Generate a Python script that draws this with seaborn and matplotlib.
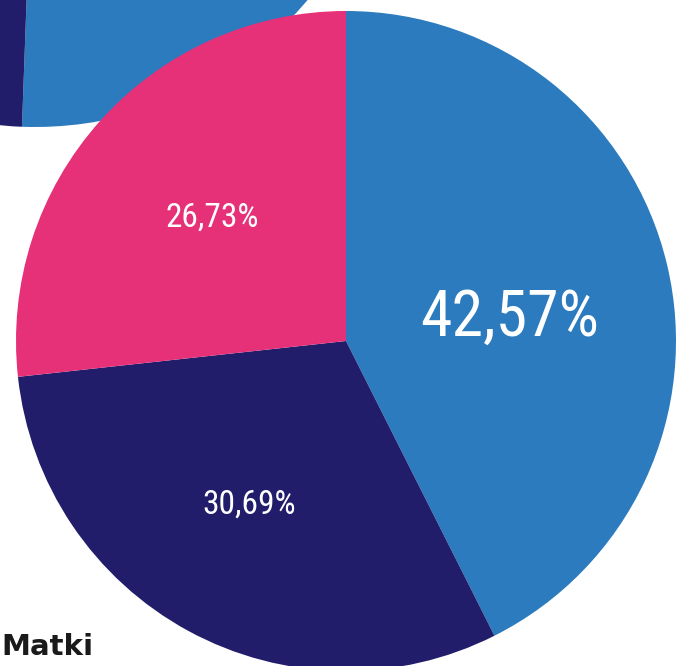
import matplotlib
matplotlib.use("Agg")
import matplotlib.pyplot as plt
import seaborn as sns

sns.set_theme(style="white")

# main pie (Matki)
labels = ["42,57%", "30,69%", "26,73%"]
values = [42.57, 30.69, 26.73]
colors = ["#2B7BBE", "#221D6B", "#E63077"]

# neighbouring pie, only partly visible top-left
side_values = [45.0, 55.0]
side_colors = ["#2B7BBE", "#221D6B"]

title = "Matki"

W, H = 683, 666
fig = plt.figure(figsize=(W / 100, H / 100), dpi=100)
ax = fig.add_axes([0, 0, 1, 1])

# partial pie behind
ax.pie(side_values, colors=side_colors, startangle=-92.1, counterclock=True,
       center=(35, H + 229), radius=356, wedgeprops=dict(linewidth=0))

wedges, _ = ax.pie(values, colors=colors, startangle=90, counterclock=False,
                   center=(346, H - 341), radius=330,
                   wedgeprops=dict(linewidth=0))

ax.set_xlim(0, W)
ax.set_ylim(0, H)
ax.set_aspect("equal")
ax.axis("off")

lab_font = ["Roboto Condensed", "DejaVu Sans"]
ax.text(510, H - 318, labels[0], color="white", fontsize=46, family=lab_font,
        ha="center", va="center")
ax.text(249, H - 505, labels[1], color="white", fontsize=24, family=lab_font,
        ha="center", va="center")
ax.text(212, H - 218, labels[2], color="white", fontsize=24, family=lab_font,
        ha="center", va="center")

ax.text(1, 11, title, color="#1a1a1a", fontsize=21, fontweight="bold",
        family="DejaVu Sans", ha="left", va="baseline")

fig.savefig("out.png", dpi=100, facecolor="white")
